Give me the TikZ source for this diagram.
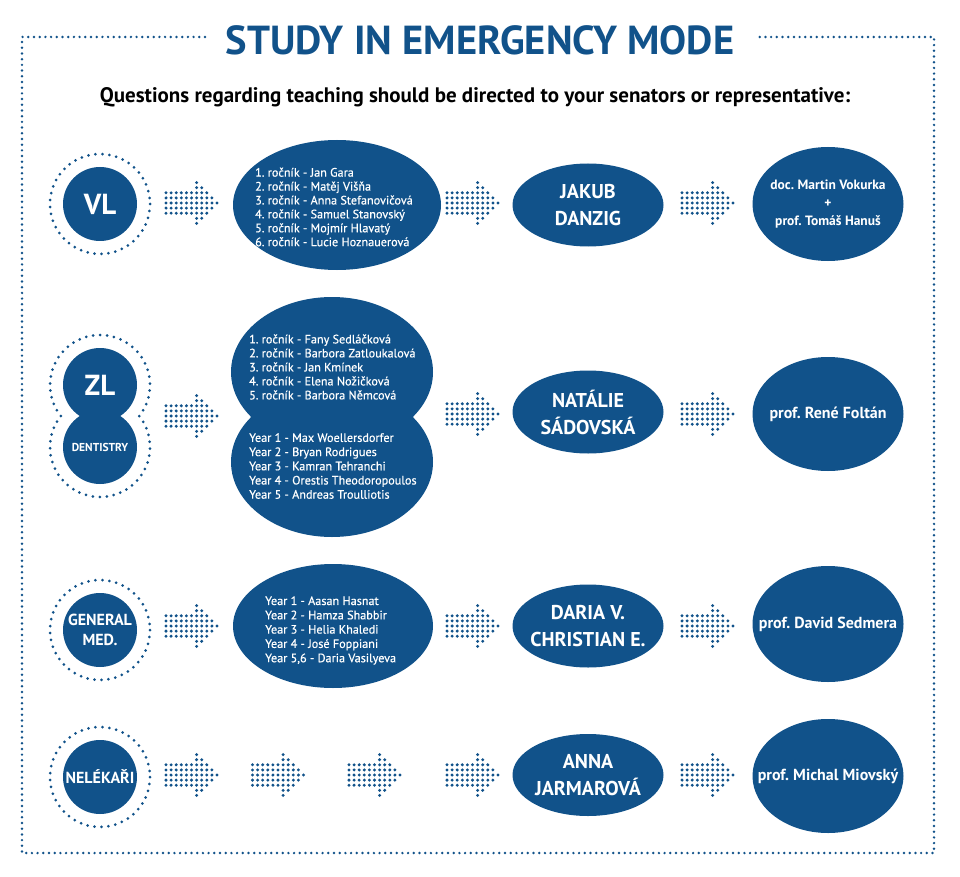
\documentclass[tikz,border=0pt]{standalone}
\usepackage{fontspec}
\setmainfont{PT Sans}
\newfontfamily\rosterfont{PT Sans}[FakeBold=0.5]
\usetikzlibrary{shapes.geometric}
\definecolor{emblue}{HTML}{11528A}
\frenchspacing

\tikzset{
  badge/.style={circle, fill=emblue, text=white, minimum size=74, inner sep=0, font=\bfseries},
  blob/.style={ellipse, fill=emblue, inner sep=0},
  roster/.style={anchor=west, align=left, text=white, inner sep=0, font=\rosterfont\fontsize{12.2}{13.9}\selectfont},
  who/.style={align=center, text=white, font=\bfseries\fontsize{20}{27}\selectfont},
  prof/.style={align=center, text=white, font=\bfseries\fontsize{16}{18}\selectfont},
  dotring/.style={draw=emblue, line width=3pt, dash pattern=on 0pt off 7pt, line cap=round},
  border/.style={draw=emblue, line width=2.7pt, dash pattern=on 0pt off 5.7pt, line cap=round},
  dotarrow/.pic={
    \foreach \i in {0,...,5}
      \foreach \j in {-2,...,2}
        \fill[emblue] (\i*5.1,\j*5.1) circle (1.65pt);
    \foreach \k in {0,...,3}{
      \pgfmathtruncatemacro\m{4-\k}
      \foreach \j in {-\m,...,\m}
        \fill[emblue] (30.6+\k*5.1,\j*5.1) circle (1.65pt);
    }
    \fill[emblue] (51,0) circle (1.65pt);
  }
}

\begin{document}
\begin{tikzpicture}[x=1pt, y=-1pt]
\useasboundingbox (0,0) rectangle (960,877);

% title and frame
\node[font=\bfseries\fontsize{40.5}{44}\selectfont, text=emblue] (title) at (480,40) {STUDY IN EMERGENCY MODE};
\node[font=\bfseries\fontsize{21}{25}\selectfont] (ask) at (475,97) {Questions regarding teaching should be directed to your senators or representative:};
\draw[border] (205,37) -| (22,853) -| (934,37) -- (757,37);

% VL
\node[badge, font=\bfseries\fontsize{29}{30}\selectfont] (vl) at (100,204) {VL};
\draw[dotring] (vl.center) circle (50);
\pic at (166,203) {dotarrow};
\node[blob, minimum width=208, minimum height=130] (vlyears) at (337,205) {};
\node[roster] (vlnames) at (255,207) {1. ročník - Jan Gara\\2. ročník - Matěj Višňa\\3. ročník - Anna Stefanovičová\\4. ročník - Samuel Stanovský\\5. ročník - Mojmír Hlavatý\\6. ročník - Lucie Hoznauerová};
\pic at (447,203) {dotarrow};
\node[blob, minimum width=151, minimum height=83] (jakub) at (588,205) {};
\node[who] (jakubtxt) at (jakub) {JAKUB\\DANZIG};
\pic at (682,203) {dotarrow};
\node[blob, minimum width=151, minimum height=114] (vokurka) at (828,204) {};
\node[prof, font=\bfseries\fontsize{13.5}{18}\selectfont] (vokurkatxt) at (vokurka) {doc. Martin Vokurka\\+\\prof. Tomáš Hanuš};

% ZL + dentistry
\node[badge, font=\bfseries\fontsize{29}{30}\selectfont] (zl) at (100,385) {ZL};
\node[badge, font=\bfseries\fontsize{11.5}{13}\selectfont] (dentistry) at (100,447) {DENTISTRY};
\draw[dotring] (60.8,416) arc[start angle=141.7, end angle=398.3, radius=50]
  arc[start angle=-38.3, end angle=218.3, radius=50];
\pic at (166,416) {dotarrow};
\node[blob, minimum width=202, minimum height=150] (zlyears) at (332,372) {};
\node[blob, minimum width=202, minimum height=150] (dentyears) at (332,462) {};
\node[roster, font=\rosterfont\fontsize{12.2}{14}\selectfont] (zlnames) at (249,367) {1. ročník - Fany Sedláčková\\2. ročník - Barbora Zatloukalová\\3. ročník - Jan Kmínek\\4. ročník - Elena Nožičková\\5. ročník - Barbora Němcová};
\node[roster, font=\rosterfont\fontsize{12.2}{14.2}\selectfont] (dentnames) at (249,466) {Year 1 - Max Woellersdorfer\\Year 2 - Bryan Rodrigues\\Year 3 - Kamran Tehranchi\\Year 4 - Orestis Theodoropoulos\\Year 5 - Andreas Troulliotis};
\pic at (447,414) {dotarrow};
\node[blob, minimum width=151, minimum height=83] (natalie) at (588,412) {};
\node[who] (natalietxt) at (natalie) {NATÁLIE\\SÁDOVSKÁ};
\pic at (682,414) {dotarrow};
\node[blob, minimum width=151, minimum height=114] (foltan) at (828,414) {};
\node[prof] (foltantxt) at (foltan) {prof. René Foltán};

% general medicine
\node[badge, align=center, font=\bfseries\fontsize{16}{20}\selectfont] (gm) at (100,630) {GENERAL\\MED.};
\draw[dotring] (gm.center) circle (50);
\pic at (166,626) {dotarrow};
\node[blob, minimum width=200, minimum height=124] (gmyears) at (333,626) {};
\node[roster, font=\rosterfont\fontsize{12.2}{14.3}\selectfont] (gmnames) at (265,630.5) {Year 1 - Aasan Hasnat\\Year 2 - Hamza Shabbir\\Year 3 - Helia Khaledi\\Year 4 - José Foppiani\\Year 5,6 - Daria Vasilyeva};
\pic at (447,626) {dotarrow};
\node[blob, minimum width=151, minimum height=83] (daria) at (588,626) {};
\node[who] (dariatxt) at (daria) {DARIA V.\\CHRISTIAN E.};
\pic at (682,626) {dotarrow};
\node[blob, minimum width=151, minimum height=116] (sedmera) at (828,624) {};
\node[prof] (sedmeratxt) at (sedmera) {prof. David Sedmera};

% nelekari
\node[badge, font=\bfseries\fontsize{16}{20}\selectfont] (nel) at (100,777) {NELÉKAŘI};
\draw[dotring] (nel.center) circle (50);
\foreach \ax in {166,252.5,349,447}
  \pic at (\ax,775) {dotarrow};
\node[blob, minimum width=151, minimum height=82] (anna) at (588,775) {};
\node[who] (annatxt) at (anna) {ANNA\\JARMAROVÁ};
\pic at (682,775) {dotarrow};
\node[blob, minimum width=151, minimum height=114] (miovsky) at (828,776) {};
\node[prof] (miovskytxt) at (miovsky) {prof. Michal Miovský};

\end{tikzpicture}
\end{document}
